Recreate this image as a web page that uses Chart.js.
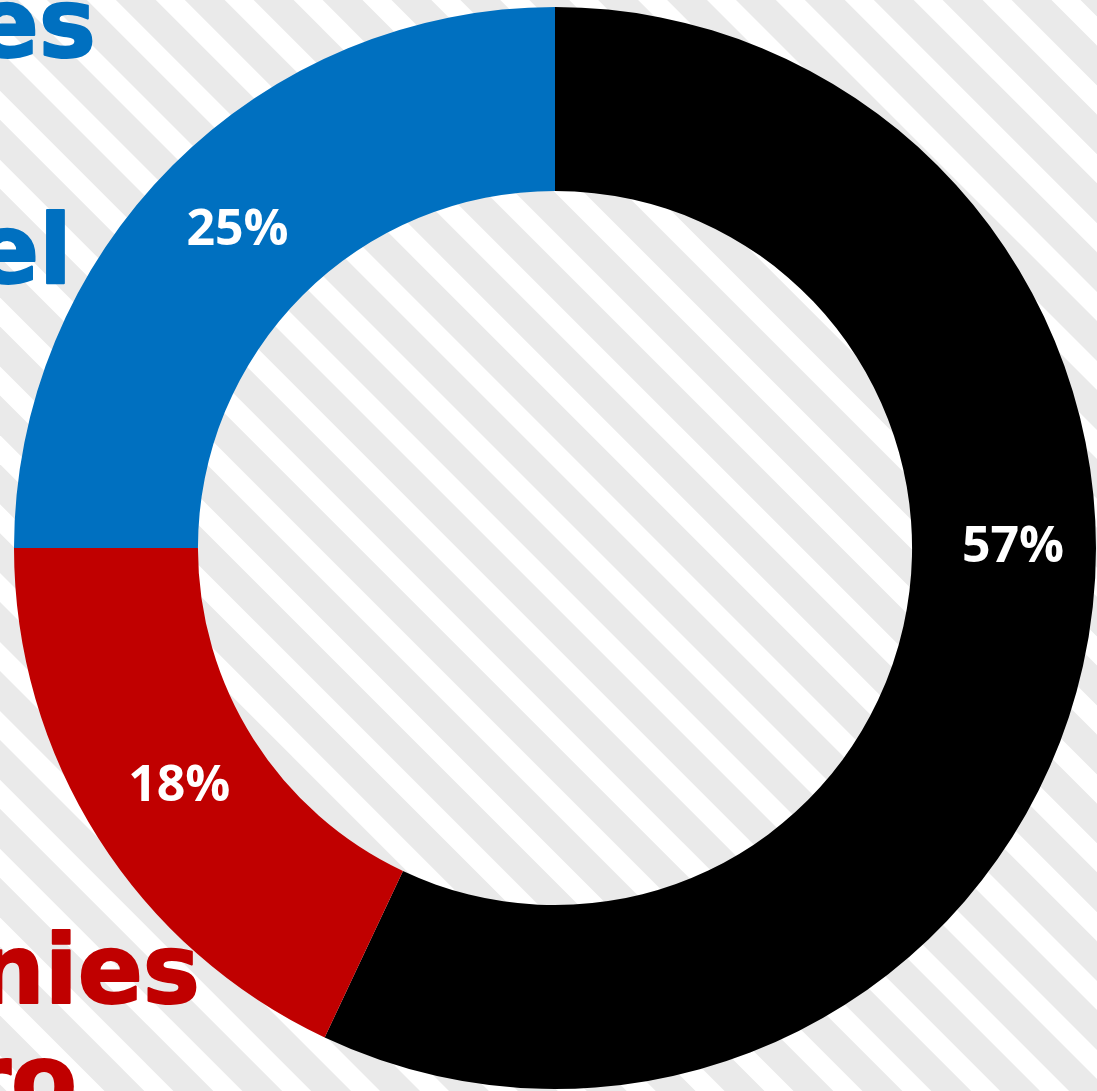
<!DOCTYPE html>
<html>
<head>
<meta charset="utf-8">
<script src="https://cdn.jsdelivr.net/npm/chart.js@4.4.1/dist/chart.umd.min.js"></script>
<style>
  html, body { margin: 0; padding: 0; background: #ffffff; overflow: hidden; }
  #wrap { position: relative; width: 1097px; height: 1091px; }
</style>
</head>
<body>
<div id="wrap"><canvas id="c" width="1097" height="1091"></canvas></div>
<script>
// ---- data ----
const categories = ['Black', 'Red', 'Blue'];
const values = [57, 18, 25];
const sliceColors = ['#000000', '#C00000', '#0070C0'];
// cropped side-label fragments (only the visible parts of the original text)
const sideTexts = ['es', 'el', 'nies', 'ro'];
const sideColors = ['#0070C0', '#0070C0', '#C00000', '#C00000'];

// striped background (45° stripes)
const stripePlugin = {
  id: 'stripes',
  beforeDraw(chart) {
    const ctx = chart.ctx;
    const W = chart.width, H = chart.height;
    const p = 68.9, white = 29, phase = 18;
    ctx.save();
    ctx.fillStyle = '#ffffff';
    ctx.fillRect(0, 0, W, H);
    ctx.fillStyle = '#EAEAEA';
    for (let k = Math.floor((-H - phase) / p) - 1; k * p + phase < W + p; k++) {
      const a = phase + k * p + white;
      const b = phase + (k + 1) * p;
      ctx.beginPath();
      ctx.moveTo(a, 0);
      ctx.lineTo(b, 0);
      ctx.lineTo(b + H, H);
      ctx.lineTo(a + H, H);
      ctx.closePath();
      ctx.fill();
    }
    ctx.restore();
  }
};

// side text fragments
const sideTextPlugin = {
  id: 'sideText',
  afterDraw(chart, args, opts) {
    const ctx = chart.ctx;
    ctx.save();
    ctx.font = opts.font;
    ctx.textAlign = 'right';
    ctx.textBaseline = 'alphabetic';
    ctx.lineJoin = 'round';
    ctx.lineWidth = opts.stroke;
    opts.items.forEach((it, i) => {
      ctx.fillStyle = sideColors[i];
      ctx.strokeStyle = sideColors[i];
      ctx.fillText(sideTexts[i], it.right, it.baseline);
      ctx.strokeText(sideTexts[i], it.right, it.baseline);
    });
    ctx.restore();
  }
};

// percentage labels
const pctPlugin = {
  id: 'pctLabels',
  afterDatasetsDraw(chart, args, opts) {
    const ctx = chart.ctx;
    const meta = chart.getDatasetMeta(0);
    const total = values.reduce((s, v) => s + v, 0);
    ctx.save();
    ctx.font = opts.font;
    ctx.fillStyle = '#ffffff';
    ctx.textAlign = 'center';
    ctx.textBaseline = 'middle';
    meta.data.forEach((arc, i) => {
      const p = arc.getProps(['x', 'y', 'startAngle', 'endAngle', 'innerRadius', 'outerRadius'], true);
      const ang = (p.startAngle + p.endAngle) / 2 + (opts.angleShift[i] || 0) * Math.PI / 180;
      const r = (p.innerRadius + p.outerRadius) / 2 + (opts.radiusShift[i] || 0);
      const txt = Math.round(values[i] / total * 100) + '%';
      ctx.fillText(txt, p.x + Math.cos(ang) * r, p.y + Math.sin(ang) * r);
    });
    ctx.restore();
  }
};

new Chart(document.getElementById('c'), {
  type: 'doughnut',
  data: {
    labels: categories,
    datasets: [{
      data: values,
      backgroundColor: sliceColors,
      borderWidth: 0,
      hoverOffset: 0
    }]
  },
  options: {
    responsive: false,
    animation: false,
    cutout: '66%',
    layout: { padding: { left: 14, right: 1, top: 7, bottom: 2 } },
    plugins: {
      legend: { display: false },
      tooltip: { enabled: false },
      title: { display: false },
      pctLabels: {
        font: 'bold 50px "Open Sans", "Noto Sans", sans-serif',
        angleShift: [-12.6, 0, 0],
        radiusShift: [9, -4, 0]
      },
      sideText: {
        font: 'bold 96px "DejaVu Sans", sans-serif',
        stroke: 2,
        items: [
          { right: 96, baseline: 57 },
          { right: 72, baseline: 283 },
          { right: 200, baseline: 1003 },
          { right: 77, baseline: 1113 }
        ]
      }
    }
  },
  plugins: [stripePlugin, pctPlugin, sideTextPlugin]
});
</script>
</body>
</html>
